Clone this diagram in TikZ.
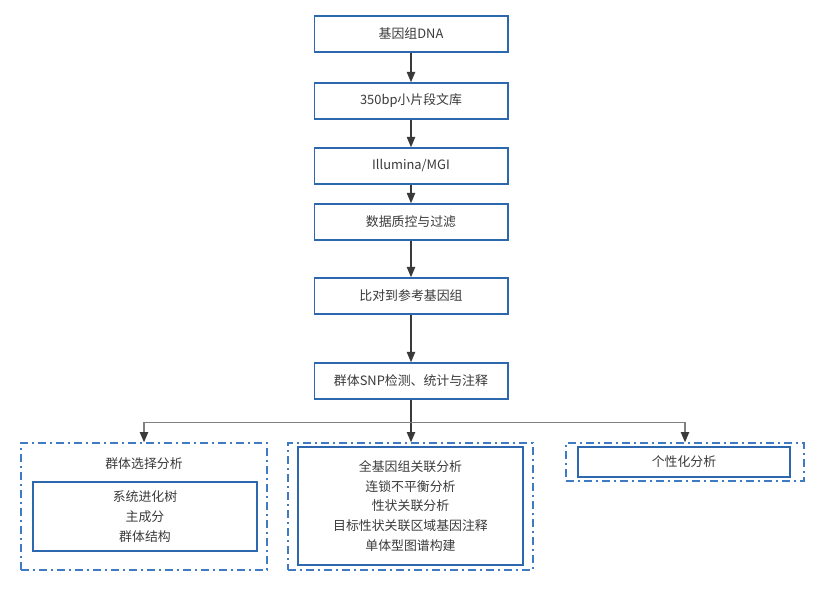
\documentclass[tikz,border=0pt]{standalone}
\usepackage{fontspec}
\setmainfont{Noto Sans CJK SC}
\usetikzlibrary{arrows.meta,positioning,calc}
\definecolor{bleuB}{HTML}{2D68AE}
\definecolor{bleuG}{HTML}{3F7BC2}
\definecolor{texteC}{HTML}{3A3A3A}
\definecolor{flecheC}{HTML}{3A3A3A}
\definecolor{brancheC}{HTML}{808080}
\tikzset{
  procbox/.style={rectangle, draw=#1, line width=0.4mm, fill=white, text=texteC,
                  align=center, font=\fontsize{11}{17}\selectfont,
                  minimum width=58.1mm, minimum height=10.85mm},
  grpbox/.style={rectangle, draw=#1, line width=0.4mm,
                 dash pattern=on 2.4mm off 1.2mm on 0.6mm off 1.2mm},
  listbox/.style={rectangle, draw=#1, line width=0.4mm, text=texteC,
                  align=center, font=\fontsize{11}{17}\selectfont},
  arr/.style={-{Triangle[length=3.1mm, width=2.5mm, color=flecheC]}, line width=0.4mm, draw=#1},
  arr/.default=flecheC,
}
\begin{document}
\begin{tikzpicture}[x=0.3mm, y=-0.3mm]
    \useasboundingbox (0,0) rectangle (831,612);
    % main chain
    \node[procbox=bleuB] (dna) at (411,34) {基因组DNA};
    \node[procbox=bleuB, below=8.85mm of dna] (lib) {350bp小片段文库};
    \node[procbox=bleuB, below=8.25mm of lib] (seq) {Illumina/MGI};
    \node[procbox=bleuB, below=5.55mm of seq] (qc) {数据质控与过滤};
    \node[procbox=bleuB, below=10.95mm of qc] (map) {比对到参考基因组};
    \node[procbox=bleuB, below=14.25mm of map] (snp) {群体SNP检测、统计与注释};
    % three analysis groups
    \node[grpbox=bleuG, minimum width=73.8mm, minimum height=38.1mm] (grpA) at (144,506.5) {};
    \node[text=texteC, font=\fontsize{11}{17}\selectfont] (titA) at (144,464) {群体选择分析};
    \node[listbox=bleuB, minimum width=67.2mm, minimum height=20.7mm] (listA) at (145,516.5)
      {系统进化树\\主成分\\群体结构};
    \node[grpbox=bleuG, minimum width=73.5mm, minimum height=38.1mm] (grpB) at (410.5,506.5) {};
    \node[listbox=bleuB, minimum width=67.5mm, minimum height=35.4mm] (listB) at (410.5,506)
      {全基因组关联分析\\连锁不平衡分析\\性状关联分析\\目标性状关联区域基因注释\\单体型图谱构建};
    \node[grpbox=bleuG, minimum width=71.4mm, minimum height=11.4mm] (grpC) at (685,462) {};
    \node[listbox=bleuB, minimum width=63.6mm, minimum height=9mm] (listC) at (684,462) {个性化分析};
    % connectors
    \draw[arr] (dna) -- (lib);
    \draw[arr] (lib) -- (seq);
    \draw[arr] (seq) -- (qc);
    \draw[arr] (qc) -- (map);
    \draw[arr] (map) -- (snp);
    \draw[arr] (snp.south) -- (snp.south |- grpB.north);
    \draw[arr=brancheC] (snp.south) ++(0,23) -| (grpA.north);
    \draw[arr=brancheC] (snp.south) ++(0,23) -| (grpC.north);
\end{tikzpicture}
\end{document}
